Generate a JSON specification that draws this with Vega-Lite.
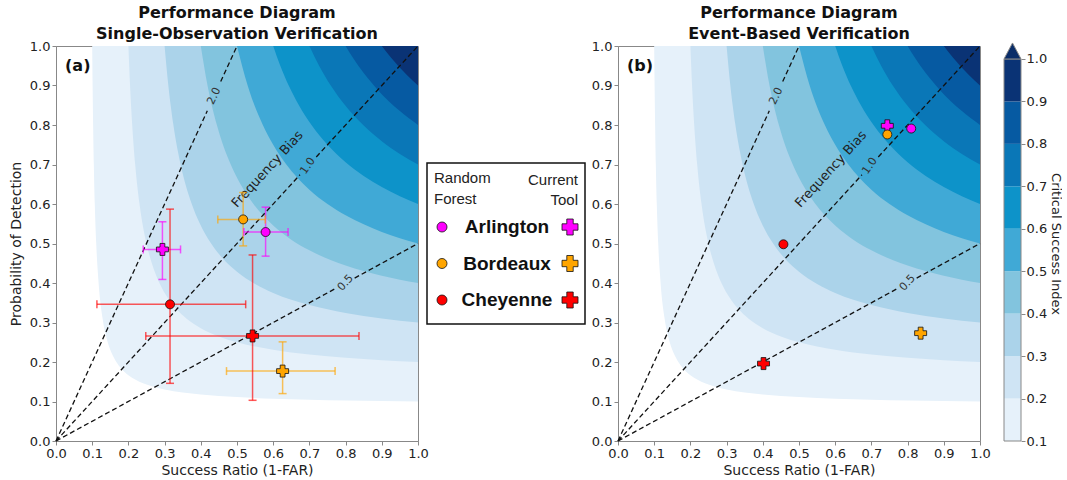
{
  "$schema": "https://vega.github.io/schema/vega-lite/v6.json",
  "background": "white",
  "padding": {"left": 8, "top": 4, "right": 0, "bottom": 0},
  "bounds": "flush",
  "spacing": 9,
  "config": {
    "font": "DejaVu Sans",
    "view": {"stroke": "#888", "strokeWidth": 1},
    "axis": {"labelFont": "DejaVu Sans", "labelFontSize": 13, "labelColor": "#222", "titleFont": "DejaVu Sans", "titleFontSize": 14, "titleFontWeight": "normal", "titleColor": "#222", "domainColor": "#888", "tickColor": "#888", "tickSize": 4, "grid": false, "labelPadding": 2, "titlePadding": 3, "labelOverlap": false, "labelBound": false, "labelFlush": false},
    "axisX": {"titlePadding": 3},
    "axisY": {"titlePadding": 6},
    "title": {"font": "DejaVu Sans", "fontSize": 16, "fontWeight": "bold", "color": "#111", "lineHeight": 21, "offset": -2}
  },
  "datasets": {
    "csi": [
      {"k":0.1,"sr":0.1,"pod":1},{"k":0.1,"sr":0.10112,"pod":0.9},{"k":0.1,"sr":0.10256,"pod":0.8},{"k":0.1,"sr":0.10448,"pod":0.7},{"k":0.1,"sr":0.10714,"pod":0.6},{"k":0.1,"sr":0.11111,"pod":0.5},{"k":0.1,"sr":0.11765,"pod":0.4},{"k":0.1,"sr":0.13043,"pod":0.3},{"k":0.1,"sr":0.14286,"pod":0.25},{"k":0.1,"sr":0.15493,"pod":0.22},{"k":0.1,"sr":0.16667,"pod":0.2},{"k":0.1,"sr":0.18182,"pod":0.18182},{"k":0.1,"sr":0.2,"pod":0.16667},{"k":0.1,"sr":0.22,"pod":0.15493},{"k":0.1,"sr":0.25,"pod":0.14286},{"k":0.1,"sr":0.3,"pod":0.13043},{"k":0.1,"sr":0.4,"pod":0.11765},{"k":0.1,"sr":0.5,"pod":0.11111},{"k":0.1,"sr":0.6,"pod":0.10714},{"k":0.1,"sr":0.7,"pod":0.10448},{"k":0.1,"sr":0.8,"pod":0.10256},{"k":0.1,"sr":0.9,"pod":0.10112},{"k":0.1,"sr":1,"pod":0.1},
      {"k":0.2,"sr":0.2,"pod":1},{"k":0.2,"sr":0.20455,"pod":0.9},{"k":0.2,"sr":0.21053,"pod":0.8},{"k":0.2,"sr":0.21875,"pod":0.7},{"k":0.2,"sr":0.23077,"pod":0.6},{"k":0.2,"sr":0.25,"pod":0.5},{"k":0.2,"sr":0.26471,"pod":0.45},{"k":0.2,"sr":0.28571,"pod":0.4},{"k":0.2,"sr":0.31034,"pod":0.36},{"k":0.2,"sr":0.33333,"pod":0.33333},{"k":0.2,"sr":0.36,"pod":0.31034},{"k":0.2,"sr":0.4,"pod":0.28571},{"k":0.2,"sr":0.45,"pod":0.26471},{"k":0.2,"sr":0.5,"pod":0.25},{"k":0.2,"sr":0.6,"pod":0.23077},{"k":0.2,"sr":0.7,"pod":0.21875},{"k":0.2,"sr":0.8,"pod":0.21053},{"k":0.2,"sr":0.9,"pod":0.20455},{"k":0.2,"sr":1,"pod":0.2},
      {"k":0.3,"sr":0.3,"pod":1},{"k":0.3,"sr":0.31034,"pod":0.9},{"k":0.3,"sr":0.32432,"pod":0.8},{"k":0.3,"sr":0.34426,"pod":0.7},{"k":0.3,"sr":0.375,"pod":0.6},{"k":0.3,"sr":0.39759,"pod":0.55},{"k":0.3,"sr":0.42857,"pod":0.5},{"k":0.3,"sr":0.46154,"pod":0.46154},{"k":0.3,"sr":0.5,"pod":0.42857},{"k":0.3,"sr":0.55,"pod":0.39759},{"k":0.3,"sr":0.6,"pod":0.375},{"k":0.3,"sr":0.7,"pod":0.34426},{"k":0.3,"sr":0.8,"pod":0.32432},{"k":0.3,"sr":0.9,"pod":0.31034},{"k":0.3,"sr":1,"pod":0.3},
      {"k":0.4,"sr":0.4,"pod":1},{"k":0.4,"sr":0.4186,"pod":0.9},{"k":0.4,"sr":0.44444,"pod":0.8},{"k":0.4,"sr":0.48276,"pod":0.7},{"k":0.4,"sr":0.5098,"pod":0.65},{"k":0.4,"sr":0.54545,"pod":0.6},{"k":0.4,"sr":0.57143,"pod":0.57143},{"k":0.4,"sr":0.6,"pod":0.54545},{"k":0.4,"sr":0.65,"pod":0.5098},{"k":0.4,"sr":0.7,"pod":0.48276},{"k":0.4,"sr":0.8,"pod":0.44444},{"k":0.4,"sr":0.9,"pod":0.4186},{"k":0.4,"sr":1,"pod":0.4},
      {"k":0.5,"sr":0.5,"pod":1},{"k":0.5,"sr":0.52941,"pod":0.9},{"k":0.5,"sr":0.57143,"pod":0.8},{"k":0.5,"sr":0.6,"pod":0.75},{"k":0.5,"sr":0.63636,"pod":0.7},{"k":0.5,"sr":0.66667,"pod":0.66667},{"k":0.5,"sr":0.7,"pod":0.63636},{"k":0.5,"sr":0.75,"pod":0.6},{"k":0.5,"sr":0.8,"pod":0.57143},{"k":0.5,"sr":0.9,"pod":0.52941},{"k":0.5,"sr":1,"pod":0.5},
      {"k":0.6,"sr":0.6,"pod":1},{"k":0.6,"sr":0.61957,"pod":0.95},{"k":0.6,"sr":0.64286,"pod":0.9},{"k":0.6,"sr":0.67105,"pod":0.85},{"k":0.6,"sr":0.70588,"pod":0.8},{"k":0.6,"sr":0.75,"pod":0.75},{"k":0.6,"sr":0.8,"pod":0.70588},{"k":0.6,"sr":0.85,"pod":0.67105},{"k":0.6,"sr":0.9,"pod":0.64286},{"k":0.6,"sr":0.95,"pod":0.61957},{"k":0.6,"sr":1,"pod":0.6},
      {"k":0.7,"sr":0.7,"pod":1},{"k":0.7,"sr":0.72678,"pod":0.95},{"k":0.7,"sr":0.75904,"pod":0.9},{"k":0.7,"sr":0.79866,"pod":0.85},{"k":0.7,"sr":0.82353,"pod":0.82353},{"k":0.7,"sr":0.85,"pod":0.79866},{"k":0.7,"sr":0.9,"pod":0.75904},{"k":0.7,"sr":0.95,"pod":0.72678},{"k":0.7,"sr":1,"pod":0.7},
      {"k":0.8,"sr":0.8,"pod":1},{"k":0.8,"sr":0.83516,"pod":0.95},{"k":0.8,"sr":0.85981,"pod":0.92},{"k":0.8,"sr":0.88889,"pod":0.88889},{"k":0.8,"sr":0.92,"pod":0.85981},{"k":0.8,"sr":0.95,"pod":0.83516},{"k":0.8,"sr":1,"pod":0.8},
      {"k":0.9,"sr":0.9,"pod":1},{"k":0.9,"sr":0.92577,"pod":0.97},{"k":0.9,"sr":0.94737,"pod":0.94737},{"k":0.9,"sr":0.97,"pod":0.92577},{"k":0.9,"sr":1,"pod":0.9}
    ],
    "bias": [
      {"seg":"2a","sr":0,"pod":0},{"seg":"2a","sr":0.418,"pod":0.836},
      {"seg":"2b","sr":0.455,"pod":0.91},{"seg":"2b","sr":0.5,"pod":1},
      {"seg":"1a","sr":0,"pod":0},{"seg":"1a","sr":0.674,"pod":0.674},
      {"seg":"1b","sr":0.719,"pod":0.719},{"seg":"1b","sr":1,"pod":1},
      {"seg":"5a","sr":0,"pod":0},{"seg":"5a","sr":0.775,"pod":0.3875},
      {"seg":"5b","sr":0.825,"pod":0.4125},{"seg":"5b","sr":1,"pod":0.5}
    ],
    "biaslab": [
      {"label":"2.0","sr":0.437,"pod":0.873},
      {"label":"1.0","sr":0.696,"pod":0.696},
      {"label":"0.5","sr":0.8,"pod":0.4}
    ],
    "pts": [
      {"panel":"a","loc":"Arlington","method":"Random Forest","sr":0.579,"pod":0.529,"sr_lo":0.519,"sr_hi":0.641,"pod_lo":0.468,"pod_hi":0.592},
      {"panel":"a","loc":"Arlington","method":"Current Tool","sr":0.294,"pod":0.485,"sr_lo":0.241,"sr_hi":0.344,"pod_lo":0.409,"pod_hi":0.555},
      {"panel":"a","loc":"Bordeaux","method":"Random Forest","sr":0.517,"pod":0.561,"sr_lo":0.447,"sr_hi":0.578,"pod_lo":0.494,"pod_hi":0.629},
      {"panel":"a","loc":"Bordeaux","method":"Current Tool","sr":0.626,"pod":0.177,"sr_lo":0.471,"sr_hi":0.771,"pod_lo":0.12,"pod_hi":0.251},
      {"panel":"a","loc":"Cheyenne","method":"Random Forest","sr":0.315,"pod":0.346,"sr_lo":0.113,"sr_hi":0.524,"pod_lo":0.146,"pod_hi":0.587},
      {"panel":"a","loc":"Cheyenne","method":"Current Tool","sr":0.543,"pod":0.266,"sr_lo":0.248,"sr_hi":0.837,"pod_lo":0.103,"pod_hi":0.471},
      {"panel":"b","loc":"Arlington","method":"Random Forest","sr":0.81,"pod":0.791},
      {"panel":"b","loc":"Arlington","method":"Current Tool","sr":0.744,"pod":0.798},
      {"panel":"b","loc":"Bordeaux","method":"Random Forest","sr":0.744,"pod":0.776},
      {"panel":"b","loc":"Bordeaux","method":"Current Tool","sr":0.836,"pod":0.273},
      {"panel":"b","loc":"Cheyenne","method":"Random Forest","sr":0.457,"pod":0.498},
      {"panel":"b","loc":"Cheyenne","method":"Current Tool","sr":0.402,"pod":0.196}
    ],
    "cbar": [
      {"lo":0.1,"hi":0.2},{"lo":0.2,"hi":0.3},{"lo":0.3,"hi":0.4},{"lo":0.4,"hi":0.5},{"lo":0.5,"hi":0.6},{"lo":0.6,"hi":0.7},{"lo":0.7,"hi":0.8},{"lo":0.8,"hi":0.9},{"lo":0.9,"hi":1.0}
    ],
    "locs": [{"loc":"Arlington"},{"loc":"Bordeaux"},{"loc":"Cheyenne"}]
  },
  "hconcat": [
    {
      "width": 362, "height": 395,
      "title": {"text": ["Performance Diagram", "Single-Observation Verification"]},
      "layer": [
        {"data": {"name": "csi"}, "mark": {"type": "area", "interpolate": "monotone"},
         "encoding": {
           "x": {"field": "sr", "type": "quantitative", "scale": {"domain": [0, 1], "nice": false, "zero": false}, "axis": {"values": [0,0.1,0.2,0.3,0.4,0.5,0.6,0.7,0.8,0.9,1], "format": ".1f", "labelOverlap": false}, "title": "Success Ratio (1-FAR)"},
           "y": {"field": "pod", "type": "quantitative", "stack": null, "scale": {"domain": [0, 1], "nice": false, "zero": false}, "axis": {"values": [0,0.1,0.2,0.3,0.4,0.5,0.6,0.7,0.8,0.9,1], "format": ".1f", "labelOverlap": false}, "title": "Probability of Detection"},
           "y2": {"datum": 1},
           "fill": {"field": "k", "type": "ordinal", "scale": {"domain": [0.1,0.2,0.3,0.4,0.5,0.6,0.7,0.8,0.9], "range": ["#e6f1fa","#cfe4f4","#abd3ea","#82c4de","#40a9d6","#0d93c9","#0a77b7","#065aa2","#0a3375"]}, "legend": null}
         }},
        {"data": {"name": "bias"}, "mark": {"type": "line", "strokeDash": [5, 3], "color": "#111", "strokeWidth": 1.3},
         "encoding": {"x": {"field": "sr", "type": "quantitative", "axis": {"values": [0,0.1,0.2,0.3,0.4,0.5,0.6,0.7,0.8,0.9,1], "format": ".1f", "labelOverlap": false}, "title": "Success Ratio (1-FAR)"}, "y": {"field": "pod", "type": "quantitative", "axis": {"values": [0,0.1,0.2,0.3,0.4,0.5,0.6,0.7,0.8,0.9,1], "format": ".1f", "labelOverlap": false}, "title": "Probability of Detection"}, "detail": {"field": "seg"}}},
        {"data": {"name": "biaslab"}, "mark": {"type": "text", "fontSize": 11, "color": "#333", "font": "DejaVu Sans", "baseline": "middle", "align": "center"},
         "encoding": {"x": {"field": "sr", "type": "quantitative", "axis": {"values": [0,0.1,0.2,0.3,0.4,0.5,0.6,0.7,0.8,0.9,1], "format": ".1f", "labelOverlap": false}, "title": "Success Ratio (1-FAR)"}, "y": {"field": "pod", "type": "quantitative", "axis": {"values": [0,0.1,0.2,0.3,0.4,0.5,0.6,0.7,0.8,0.9,1], "format": ".1f", "labelOverlap": false}, "title": "Probability of Detection"}, "text": {"field": "label"},
           "angle": {"field": "label", "type": "ordinal", "scale": {"domain": ["2.0","1.0","0.5"], "range": [294.6, 312.5, 331.4]}, "legend": null}}},
        {"data": {"values": [{"t": "Frequency Bias", "sr": 0.584, "pod": 0.688}]}, "mark": {"type": "text", "fontSize": 13, "color": "#222", "angle": 312.5, "baseline": "middle", "align": "center"},
         "encoding": {"x": {"field": "sr", "type": "quantitative", "axis": {"values": [0,0.1,0.2,0.3,0.4,0.5,0.6,0.7,0.8,0.9,1], "format": ".1f", "labelOverlap": false}, "title": "Success Ratio (1-FAR)"}, "y": {"field": "pod", "type": "quantitative", "axis": {"values": [0,0.1,0.2,0.3,0.4,0.5,0.6,0.7,0.8,0.9,1], "format": ".1f", "labelOverlap": false}, "title": "Probability of Detection"}, "text": {"field": "t"}}},
        {"data": {"values": [{"t": "(a)", "sr": 0.025, "pod": 0.949}]}, "mark": {"type": "text", "fontSize": 16, "fontWeight": "bold", "color": "#111", "align": "left", "baseline": "middle"},
         "encoding": {"x": {"field": "sr", "type": "quantitative", "axis": {"values": [0,0.1,0.2,0.3,0.4,0.5,0.6,0.7,0.8,0.9,1], "format": ".1f", "labelOverlap": false}, "title": "Success Ratio (1-FAR)"}, "y": {"field": "pod", "type": "quantitative", "axis": {"values": [0,0.1,0.2,0.3,0.4,0.5,0.6,0.7,0.8,0.9,1], "format": ".1f", "labelOverlap": false}, "title": "Probability of Detection"}, "text": {"field": "t"}}},
        {"data": {"name": "pts"}, "transform": [{"filter": "datum.panel == 'a'"}], "mark": {"type": "rule", "strokeWidth": 1.5, "opacity": 0.65},
         "encoding": {"x": {"field": "sr_lo", "type": "quantitative", "axis": {"values": [0,0.1,0.2,0.3,0.4,0.5,0.6,0.7,0.8,0.9,1], "format": ".1f", "labelOverlap": false}, "title": "Success Ratio (1-FAR)"}, "x2": {"field": "sr_hi"}, "y": {"field": "pod", "type": "quantitative", "axis": {"values": [0,0.1,0.2,0.3,0.4,0.5,0.6,0.7,0.8,0.9,1], "format": ".1f", "labelOverlap": false}, "title": "Probability of Detection"},
           "color": {"field": "loc", "type": "nominal", "scale": {"domain": ["Arlington","Bordeaux","Cheyenne"], "range": ["#ff00ff","#ffa500","#ff0000"]}, "legend": null}}},
        {"data": {"name": "pts"}, "transform": [{"filter": "datum.panel == 'a'"}], "mark": {"type": "rule", "strokeWidth": 1.5, "opacity": 0.65},
         "encoding": {"x": {"field": "sr", "type": "quantitative", "axis": {"values": [0,0.1,0.2,0.3,0.4,0.5,0.6,0.7,0.8,0.9,1], "format": ".1f", "labelOverlap": false}, "title": "Success Ratio (1-FAR)"}, "y": {"field": "pod_lo", "type": "quantitative", "axis": {"values": [0,0.1,0.2,0.3,0.4,0.5,0.6,0.7,0.8,0.9,1], "format": ".1f", "labelOverlap": false}, "title": "Probability of Detection"}, "y2": {"field": "pod_hi"},
           "color": {"field": "loc", "type": "nominal", "scale": {"domain": ["Arlington","Bordeaux","Cheyenne"], "range": ["#ff00ff","#ffa500","#ff0000"]}, "legend": null}}},
        {"data": {"name": "pts"}, "transform": [{"filter": "datum.panel == 'a'"}], "mark": {"type": "point", "shape": "M0,-1L0,1", "size": 64, "filled": false, "strokeWidth": 1.5, "opacity": 0.65},
         "encoding": {"x": {"field": "sr_lo", "type": "quantitative", "axis": {"values": [0,0.1,0.2,0.3,0.4,0.5,0.6,0.7,0.8,0.9,1], "format": ".1f", "labelOverlap": false}, "title": "Success Ratio (1-FAR)"}, "y": {"field": "pod", "type": "quantitative", "axis": {"values": [0,0.1,0.2,0.3,0.4,0.5,0.6,0.7,0.8,0.9,1], "format": ".1f", "labelOverlap": false}, "title": "Probability of Detection"},
           "color": {"field": "loc", "type": "nominal", "scale": {"domain": ["Arlington","Bordeaux","Cheyenne"], "range": ["#ff00ff","#ffa500","#ff0000"]}, "legend": null}}},
        {"data": {"name": "pts"}, "transform": [{"filter": "datum.panel == 'a'"}], "mark": {"type": "point", "shape": "M0,-1L0,1", "size": 64, "filled": false, "strokeWidth": 1.5, "opacity": 0.65},
         "encoding": {"x": {"field": "sr_hi", "type": "quantitative", "axis": {"values": [0,0.1,0.2,0.3,0.4,0.5,0.6,0.7,0.8,0.9,1], "format": ".1f", "labelOverlap": false}, "title": "Success Ratio (1-FAR)"}, "y": {"field": "pod", "type": "quantitative", "axis": {"values": [0,0.1,0.2,0.3,0.4,0.5,0.6,0.7,0.8,0.9,1], "format": ".1f", "labelOverlap": false}, "title": "Probability of Detection"},
           "color": {"field": "loc", "type": "nominal", "scale": {"domain": ["Arlington","Bordeaux","Cheyenne"], "range": ["#ff00ff","#ffa500","#ff0000"]}, "legend": null}}},
        {"data": {"name": "pts"}, "transform": [{"filter": "datum.panel == 'a'"}], "mark": {"type": "point", "shape": "M-1,0L1,0", "size": 64, "filled": false, "strokeWidth": 1.5, "opacity": 0.65},
         "encoding": {"x": {"field": "sr", "type": "quantitative", "axis": {"values": [0,0.1,0.2,0.3,0.4,0.5,0.6,0.7,0.8,0.9,1], "format": ".1f", "labelOverlap": false}, "title": "Success Ratio (1-FAR)"}, "y": {"field": "pod_lo", "type": "quantitative", "axis": {"values": [0,0.1,0.2,0.3,0.4,0.5,0.6,0.7,0.8,0.9,1], "format": ".1f", "labelOverlap": false}, "title": "Probability of Detection"},
           "color": {"field": "loc", "type": "nominal", "scale": {"domain": ["Arlington","Bordeaux","Cheyenne"], "range": ["#ff00ff","#ffa500","#ff0000"]}, "legend": null}}},
        {"data": {"name": "pts"}, "transform": [{"filter": "datum.panel == 'a'"}], "mark": {"type": "point", "shape": "M-1,0L1,0", "size": 64, "filled": false, "strokeWidth": 1.5, "opacity": 0.65},
         "encoding": {"x": {"field": "sr", "type": "quantitative", "axis": {"values": [0,0.1,0.2,0.3,0.4,0.5,0.6,0.7,0.8,0.9,1], "format": ".1f", "labelOverlap": false}, "title": "Success Ratio (1-FAR)"}, "y": {"field": "pod_hi", "type": "quantitative", "axis": {"values": [0,0.1,0.2,0.3,0.4,0.5,0.6,0.7,0.8,0.9,1], "format": ".1f", "labelOverlap": false}, "title": "Probability of Detection"},
           "color": {"field": "loc", "type": "nominal", "scale": {"domain": ["Arlington","Bordeaux","Cheyenne"], "range": ["#ff00ff","#ffa500","#ff0000"]}, "legend": null}}},
        {"data": {"name": "pts"}, "transform": [{"filter": "datum.panel == 'a'"}], "mark": {"type": "point", "filled": true, "stroke": "#111", "strokeWidth": 0.8, "opacity": 1},
         "encoding": {"x": {"field": "sr", "type": "quantitative", "axis": {"values": [0,0.1,0.2,0.3,0.4,0.5,0.6,0.7,0.8,0.9,1], "format": ".1f", "labelOverlap": false}, "title": "Success Ratio (1-FAR)"}, "y": {"field": "pod", "type": "quantitative", "axis": {"values": [0,0.1,0.2,0.3,0.4,0.5,0.6,0.7,0.8,0.9,1], "format": ".1f", "labelOverlap": false}, "title": "Probability of Detection"},
           "color": {"field": "loc", "type": "nominal", "scale": {"domain": ["Arlington","Bordeaux","Cheyenne"], "range": ["#ff00ff","#ffa500","#ff0000"]}, "legend": null},
           "shape": {"field": "method", "type": "nominal", "scale": {"domain": ["Random Forest","Current Tool"], "range": ["circle","cross"]}, "legend": null},
           "size": {"field": "method", "type": "nominal", "scale": {"domain": ["Random Forest","Current Tool"], "range": [81, 144]}, "legend": null}}}
      ]
    },
    {
      "width": 182, "height": 395,
      "view": {"stroke": null},
      "resolve": {"scale": {"y": "independent"}},
      "layer": [
        {"data": {"values": [{}]}, "mark": {"type": "rect", "fill": "white", "stroke": "#111", "strokeWidth": 1.5},
         "encoding": {"x": {"datum": 0, "type": "quantitative", "scale": {"domain": [0, 182], "nice": false, "zero": false}, "axis": null}, "x2": {"datum": 158},
           "y": {"datum": 117, "type": "quantitative", "scale": {"domain": [0, 395], "reverse": true, "nice": false, "zero": false}, "axis": null}, "y2": {"datum": 278}}},
        {"data": {"values": [{"t": ["Random", "Forest"]}]}, "mark": {"type": "text", "font": "Liberation Sans", "fontSize": 15, "color": "#222", "align": "left", "baseline": "middle", "lineHeight": 21},
         "encoding": {"x": {"datum": 7, "type": "quantitative", "axis": null}, "y": {"datum": 132, "type": "quantitative", "scale": {"domain": [0, 395], "reverse": true, "nice": false, "zero": false}, "axis": null}, "text": {"field": "t"}}},
        {"data": {"values": [{"t": ["Current", "Tool"]}]}, "mark": {"type": "text", "font": "Liberation Sans", "fontSize": 15, "color": "#222", "align": "right", "baseline": "middle", "lineHeight": 20},
         "encoding": {"x": {"datum": 151, "type": "quantitative", "axis": null}, "y": {"datum": 134, "type": "quantitative", "scale": {"domain": [0, 395], "reverse": true, "nice": false, "zero": false}, "axis": null}, "text": {"field": "t"}}},
        {"data": {"name": "locs"}, "mark": {"type": "point", "shape": "circle", "filled": true, "size": 100, "stroke": "#111", "strokeWidth": 0.8, "opacity": 1},
         "encoding": {"x": {"datum": 15, "type": "quantitative", "axis": null},
           "y": {"field": "loc", "type": "nominal", "scale": {"type": "point", "padding": 0, "domain": ["Arlington","Bordeaux","Cheyenne"], "range": [181, 254]}, "axis": null},
           "color": {"field": "loc", "type": "nominal", "scale": {"domain": ["Arlington","Bordeaux","Cheyenne"], "range": ["#ff00ff","#ffa500","#ff0000"]}, "legend": null}}},
        {"data": {"name": "locs"}, "mark": {"type": "text", "font": "Liberation Sans", "fontSize": 19, "fontWeight": "bold", "color": "#111", "align": "center", "baseline": "middle"},
         "encoding": {"x": {"datum": 80, "type": "quantitative", "axis": null},
           "y": {"field": "loc", "type": "nominal", "scale": {"type": "point", "padding": 0, "domain": ["Arlington","Bordeaux","Cheyenne"], "range": [181, 254]}, "axis": null},
           "text": {"field": "loc"}}},
        {"data": {"name": "locs"}, "mark": {"type": "point", "shape": "cross", "filled": true, "size": 256, "stroke": "#111", "strokeWidth": 0.8, "opacity": 1},
         "encoding": {"x": {"datum": 143, "type": "quantitative", "axis": null},
           "y": {"field": "loc", "type": "nominal", "scale": {"type": "point", "padding": 0, "domain": ["Arlington","Bordeaux","Cheyenne"], "range": [181, 254]}, "axis": null},
           "color": {"field": "loc", "type": "nominal", "scale": {"domain": ["Arlington","Bordeaux","Cheyenne"], "range": ["#ff00ff","#ffa500","#ff0000"]}, "legend": null}}}
      ]
    },
    {
      "width": 362, "height": 395,
      "title": {"text": ["Performance Diagram", "Event-Based Verification"]},
      "layer": [
        {"data": {"name": "csi"}, "mark": {"type": "area", "interpolate": "monotone"},
         "encoding": {
           "x": {"field": "sr", "type": "quantitative", "scale": {"domain": [0, 1], "nice": false, "zero": false}, "axis": {"values": [0,0.1,0.2,0.3,0.4,0.5,0.6,0.7,0.8,0.9,1], "format": ".1f", "labelOverlap": false}, "title": "Success Ratio (1-FAR)"},
           "y": {"field": "pod", "type": "quantitative", "stack": null, "scale": {"domain": [0, 1], "nice": false, "zero": false}, "axis": {"values": [0,0.1,0.2,0.3,0.4,0.5,0.6,0.7,0.8,0.9,1], "format": ".1f", "labelOverlap": false}, "title": null},
           "y2": {"datum": 1},
           "fill": {"field": "k", "type": "ordinal", "scale": {"domain": [0.1,0.2,0.3,0.4,0.5,0.6,0.7,0.8,0.9], "range": ["#e6f1fa","#cfe4f4","#abd3ea","#82c4de","#40a9d6","#0d93c9","#0a77b7","#065aa2","#0a3375"]}, "legend": null}
         }},
        {"data": {"name": "bias"}, "mark": {"type": "line", "strokeDash": [5, 3], "color": "#111", "strokeWidth": 1.3},
         "encoding": {"x": {"field": "sr", "type": "quantitative", "axis": {"values": [0,0.1,0.2,0.3,0.4,0.5,0.6,0.7,0.8,0.9,1], "format": ".1f", "labelOverlap": false}, "title": "Success Ratio (1-FAR)"}, "y": {"field": "pod", "type": "quantitative", "axis": {"values": [0,0.1,0.2,0.3,0.4,0.5,0.6,0.7,0.8,0.9,1], "format": ".1f", "labelOverlap": false}, "title": null}, "detail": {"field": "seg"}}},
        {"data": {"name": "biaslab"}, "mark": {"type": "text", "fontSize": 11, "color": "#333", "font": "DejaVu Sans", "baseline": "middle", "align": "center"},
         "encoding": {"x": {"field": "sr", "type": "quantitative", "axis": {"values": [0,0.1,0.2,0.3,0.4,0.5,0.6,0.7,0.8,0.9,1], "format": ".1f", "labelOverlap": false}, "title": "Success Ratio (1-FAR)"}, "y": {"field": "pod", "type": "quantitative", "axis": {"values": [0,0.1,0.2,0.3,0.4,0.5,0.6,0.7,0.8,0.9,1], "format": ".1f", "labelOverlap": false}, "title": null}, "text": {"field": "label"},
           "angle": {"field": "label", "type": "ordinal", "scale": {"domain": ["2.0","1.0","0.5"], "range": [294.6, 312.5, 331.4]}, "legend": null}}},
        {"data": {"values": [{"t": "Frequency Bias", "sr": 0.588, "pod": 0.688}]}, "mark": {"type": "text", "fontSize": 13, "color": "#222", "angle": 312.5, "baseline": "middle", "align": "center"},
         "encoding": {"x": {"field": "sr", "type": "quantitative", "axis": {"values": [0,0.1,0.2,0.3,0.4,0.5,0.6,0.7,0.8,0.9,1], "format": ".1f", "labelOverlap": false}, "title": "Success Ratio (1-FAR)"}, "y": {"field": "pod", "type": "quantitative", "axis": {"values": [0,0.1,0.2,0.3,0.4,0.5,0.6,0.7,0.8,0.9,1], "format": ".1f", "labelOverlap": false}, "title": null}, "text": {"field": "t"}}},
        {"data": {"values": [{"t": "(b)", "sr": 0.025, "pod": 0.949}]}, "mark": {"type": "text", "fontSize": 16, "fontWeight": "bold", "color": "#111", "align": "left", "baseline": "middle"},
         "encoding": {"x": {"field": "sr", "type": "quantitative", "axis": {"values": [0,0.1,0.2,0.3,0.4,0.5,0.6,0.7,0.8,0.9,1], "format": ".1f", "labelOverlap": false}, "title": "Success Ratio (1-FAR)"}, "y": {"field": "pod", "type": "quantitative", "axis": {"values": [0,0.1,0.2,0.3,0.4,0.5,0.6,0.7,0.8,0.9,1], "format": ".1f", "labelOverlap": false}, "title": null}, "text": {"field": "t"}}},
        {"data": {"name": "pts"}, "transform": [{"filter": "datum.panel == 'b'"}], "mark": {"type": "point", "filled": true, "stroke": "#111", "strokeWidth": 0.8, "opacity": 1},
         "encoding": {"x": {"field": "sr", "type": "quantitative", "axis": {"values": [0,0.1,0.2,0.3,0.4,0.5,0.6,0.7,0.8,0.9,1], "format": ".1f", "labelOverlap": false}, "title": "Success Ratio (1-FAR)"}, "y": {"field": "pod", "type": "quantitative", "axis": {"values": [0,0.1,0.2,0.3,0.4,0.5,0.6,0.7,0.8,0.9,1], "format": ".1f", "labelOverlap": false}, "title": null},
           "color": {"field": "loc", "type": "nominal", "scale": {"domain": ["Arlington","Bordeaux","Cheyenne"], "range": ["#ff00ff","#ffa500","#ff0000"]}, "legend": null},
           "shape": {"field": "method", "type": "nominal", "scale": {"domain": ["Random Forest","Current Tool"], "range": ["circle","cross"]}, "legend": null},
           "size": {"field": "method", "type": "nominal", "scale": {"domain": ["Random Forest","Current Tool"], "range": [81, 144]}, "legend": null}}}
      ]
    },
    {
      "width": 32, "height": 395,
      "view": {"stroke": null},
      "layer": [
        {"data": {"name": "cbar"}, "mark": {"type": "rect"},
         "encoding": {"x": {"datum": 15, "type": "quantitative", "scale": {"domain": [0, 32], "nice": false, "zero": false}, "axis": null}, "x2": {"datum": 32},
           "y": {"field": "lo", "type": "quantitative", "scale": {"domain": [0.1, 1.0306], "nice": false, "zero": false},
             "axis": {"orient": "right", "values": [0.1,0.2,0.3,0.4,0.5,0.6,0.7,0.8,0.9,1.0], "format": ".1f", "domain": false, "labelPadding": 1, "titlePadding": 2, "titleFontSize": 13, "labelOverlap": false}, "title": "Critical Success Index"},
           "y2": {"field": "hi"},
           "fill": {"field": "lo", "type": "ordinal", "scale": {"domain": [0.1,0.2,0.3,0.4,0.5,0.6,0.7,0.8,0.9], "range": ["#e6f1fa","#cfe4f4","#abd3ea","#82c4de","#40a9d6","#0d93c9","#0a77b7","#065aa2","#0a3375"]}, "legend": null}}},
        {"data": {"values": [{}]}, "mark": {"type": "rect", "fill": null, "fillOpacity": 0, "stroke": "#888", "strokeWidth": 1},
         "encoding": {"x": {"datum": 15, "type": "quantitative", "axis": null}, "x2": {"datum": 32}, "y": {"datum": 0.1, "type": "quantitative", "axis": {"orient": "right", "values": [0.1,0.2,0.3,0.4,0.5,0.6,0.7,0.8,0.9,1.0], "format": ".1f", "domain": false, "labelPadding": 1, "titlePadding": 2, "titleFontSize": 13, "labelOverlap": false}, "title": "Critical Success Index"}, "y2": {"datum": 1.0}}},
        {"data": {"values": [{}]}, "mark": {"type": "point", "shape": "M-1,0.94L0,-0.94L1,0.94Z", "size": 289, "filled": true, "fill": "#0a2d68", "stroke": "#888", "strokeWidth": 1, "opacity": 1},
         "encoding": {"x": {"datum": 23.5, "type": "quantitative", "axis": null}, "y": {"datum": 1.0189, "type": "quantitative", "axis": {"orient": "right", "values": [0.1,0.2,0.3,0.4,0.5,0.6,0.7,0.8,0.9,1.0], "format": ".1f", "domain": false, "labelPadding": 1, "titlePadding": 2, "titleFontSize": 13, "labelOverlap": false}, "title": "Critical Success Index"}}}
      ]
    }
  ]
}
